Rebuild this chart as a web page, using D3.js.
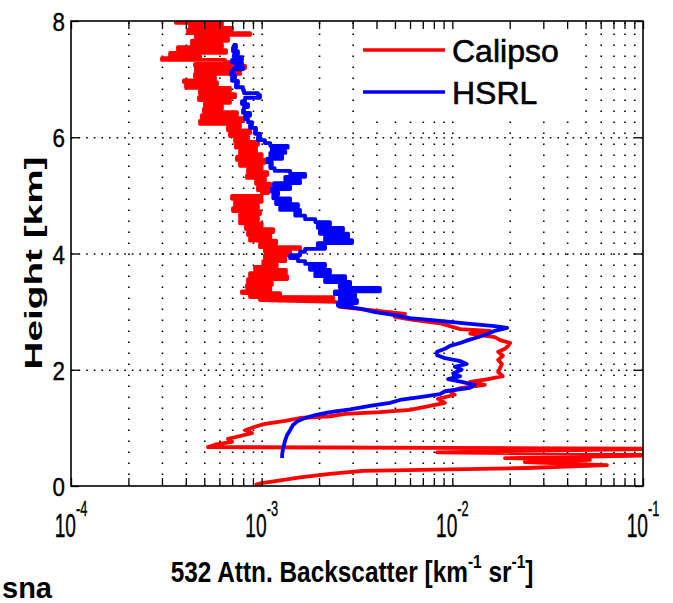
<!DOCTYPE html>
<html>
<head>
<meta charset="utf-8">
<script src="https://cdn.jsdelivr.net/npm/d3@7"></script>
<style>
  body { margin: 0; background: #fff; }
  text { font-family: "Liberation Sans", Arial, Helvetica, sans-serif; fill: #000; }
</style>
</head>
<body>
<svg id="chart" width="673" height="603"></svg>
<script>
// profiles: [height km, 532 attenuated backscatter km^-1 sr^-1], read top -> ground
const calipso = [
  [8.00,4.75e-4],[7.97,3.55e-4],[7.93,6.19e-4],[7.88,4.21e-4],[7.85,6.99e-4],[7.79,4.11e-4],
  [7.76,8.69e-4],[7.71,4.52e-4],[7.66,6.66e-4],[7.60,4.31e-4],[7.55,6.19e-4],[7.50,3.64e-4],
  [7.45,6.50e-4],[7.40,3.31e-4],[7.36,4.75e-4],[7.33,3.00e-4],[7.29,6.42e-4],[7.26,7.70e-4],
  [7.23,4.47e-4],[7.19,8.18e-4],[7.14,4.52e-4],[7.09,7.70e-4],[7.04,4.47e-4],[6.98,5.69e-4],
  [6.95,3.91e-4],[6.90,5.83e-4],[6.85,4.01e-4],[6.80,6.82e-4],[6.74,4.75e-4],[6.69,7.25e-4],
  [6.64,4.69e-4],[6.59,6.82e-4],[6.54,5.04e-4],[6.49,6.19e-4],[6.43,4.98e-4],[6.38,7.42e-4],
  [6.33,4.86e-4],[6.28,7.98e-4],[6.23,4.75e-4],[6.18,7.70e-4],[6.12,6.66e-4],[6.07,8.69e-4],
  [6.02,6.82e-4],[5.97,8.48e-4],[5.92,7.25e-4],[5.87,9.56e-4],[5.82,7.33e-4],[5.76,9.34e-4],
  [5.71,7.70e-4],[5.66,1.00e-3],[5.61,7.42e-4],[5.56,1.04e-3],[5.51,7.70e-4],[5.45,1.00e-3],
  [5.40,8.48e-4],[5.35,1.07e-3],[5.30,8.38e-4],[5.25,1.04e-3],[5.20,9.34e-4],[5.14,1.11e-3],
  [5.09,9.56e-4],[5.04,1.08e-3],[4.99,1.00e-3],[4.94,6.99e-4],[4.89,1.00e-3],[4.83,7.25e-4],
  [4.78,9.56e-4],[4.73,7.07e-4],[4.68,9.80e-4],[4.63,7.70e-4],[4.58,9.56e-4],[4.52,7.70e-4],
  [4.47,1.00e-3],[4.42,8.27e-4],[4.37,1.15e-3],[4.32,8.48e-4],[4.27,1.11e-3],[4.22,8.69e-4],
  [4.16,1.19e-3],[4.11,9.80e-4],[4.08,1.59e-3],[4.03,1.04e-3],[3.97,1.41e-3],[3.92,1.04e-3],
  [3.87,1.33e-3],[3.82,1.02e-3],[3.77,1.20e-3],[3.72,9.23e-4],[3.66,1.34e-3],[3.61,8.69e-4],
  [3.56,1.36e-3],[3.51,8.48e-4],[3.46,1.13e-3],[3.41,8.38e-4],[3.35,1.11e-3],[3.32,7.88e-4],
  [3.29,1.25e-3],[3.25,8.69e-4],[3.23,2.37e-3],[3.20,9.80e-4],[3.17,2.42e-3],[3.11,2.98e-3],
  [3.08,2.57e-3],[3.01,4.17e-3],[2.96,5.65e-3],[2.91,5.00e-3],[2.86,6.22e-3],[2.80,8.61e-3],
  [2.75,9.72e-3],[2.70,1.10e-2],[2.67,1.58e-2],[2.62,1.24e-2],[2.56,1.67e-2],[2.51,1.78e-2],
  [2.46,2.01e-2],[2.41,1.96e-2],[2.36,1.89e-2],[2.31,1.74e-2],[2.24,1.84e-2],[2.17,1.74e-2],
  [2.10,1.82e-2],[2.03,1.78e-2],[1.96,1.74e-2],[1.89,1.84e-2],[1.84,1.54e-2],[1.79,1.24e-2],
  [1.74,1.48e-2],[1.69,1.12e-2],[1.63,9.72e-3],[1.57,1.03e-2],[1.50,8.41e-3],[1.43,9.15e-3],
  [1.36,7.19e-3],[1.31,6.00e-3],[1.27,4.17e-3],[1.24,2.74e-3],[1.20,2.28e-3],[1.17,1.59e-3],
  [1.12,1.33e-3],[1.07,1.04e-3],[1.02,9.23e-4],[0.96,8.18e-4],[0.91,8.90e-4],[0.86,7.70e-4],
  [0.81,6.66e-4],[0.76,6.99e-4],[0.71,5.69e-4],[0.67,5.23e-4],[0.64,0.13],[0.58,8.31e-3],
  [0.53,0.13],[0.48,1.89e-2],[0.45,5.27e-2],[0.41,2.40e-2],[0.36,6.47e-2],[0.31,2.46e-2],
  [0.26,3.40e-3],[0.21,2.28e-3],[0.15,1.59e-3],[0.10,1.28e-3],[0.05,1.00e-3],[0.02,9.23e-4]
];

const hsrl = [
  [7.59,7.07e-4],[7.54,7.33e-4],[7.48,7.07e-4],[7.43,7.51e-4],[7.38,7.16e-4],[7.33,7.88e-4],
  [7.29,6.99e-4],[7.24,7.88e-4],[7.21,7.33e-4],[7.17,7.98e-4],[7.12,7.07e-4],[7.07,6.91e-4],
  [7.02,7.25e-4],[6.97,6.99e-4],[6.92,7.51e-4],[6.86,7.33e-4],[6.81,7.98e-4],[6.76,8.08e-4],
  [6.73,9.56e-4],[6.68,9.80e-4],[6.62,8.18e-4],[6.57,7.88e-4],[6.52,8.48e-4],[6.47,8.08e-4],
  [6.42,7.98e-4],[6.37,8.69e-4],[6.31,8.18e-4],[6.26,8.48e-4],[6.21,8.90e-4],[6.16,8.69e-4],
  [6.11,9.34e-4],[6.06,9.23e-4],[6.00,9.80e-4],[5.95,9.56e-4],[5.90,1.04e-3],[5.85,1.11e-3],
  [5.82,1.37e-3],[5.76,1.13e-3],[5.73,1.33e-3],[5.68,1.11e-3],[5.63,1.28e-3],[5.57,1.07e-3],
  [5.52,1.13e-3],[5.47,1.11e-3],[5.42,1.17e-3],[5.37,1.41e-3],[5.32,1.69e-3],[5.26,1.33e-3],
  [5.21,1.59e-3],[5.16,1.16e-3],[5.11,1.41e-3],[5.06,1.13e-3],[5.01,1.22e-3],[4.95,1.15e-3],
  [4.90,1.41e-3],[4.85,1.19e-3],[4.80,1.55e-3],[4.75,1.25e-3],[4.70,1.59e-3],[4.65,1.50e-3],
  [4.59,1.69e-3],[4.54,1.91e-3],[4.49,2.28e-3],[4.44,1.97e-3],[4.39,2.67e-3],[4.34,2.02e-3],
  [4.28,2.84e-3],[4.23,2.15e-3],[4.18,2.98e-3],[4.13,1.97e-3],[4.08,2.15e-3],[4.03,1.69e-3],
  [3.97,1.59e-3],[3.92,1.41e-3],[3.87,1.55e-3],[3.82,1.69e-3],[3.77,2.15e-3],[3.72,1.79e-3],
  [3.66,2.28e-3],[3.61,1.91e-3],[3.56,2.74e-3],[3.51,2.15e-3],[3.46,2.91e-3],[3.41,2.57e-3],
  [3.35,4.17e-3],[3.30,2.42e-3],[3.25,3.09e-3],[3.20,2.57e-3],[3.15,3.16e-3],[3.10,2.51e-3],
  [3.05,3.28e-3],[2.99,3.93e-3],[2.94,5.00e-3],[2.89,6.00e-3],[2.84,8.61e-3],[2.79,1.24e-2],
  [2.75,1.67e-2],[2.72,1.94e-2],[2.67,1.67e-2],[2.62,1.54e-2],[2.56,1.36e-2],[2.51,1.21e-2],
  [2.46,1.10e-2],[2.41,9.72e-3],[2.36,9.15e-3],[2.31,8.31e-3],[2.25,8.31e-3],[2.20,9.15e-3],
  [2.15,1.10e-2],[2.10,1.19e-2],[2.05,1.03e-2],[2.00,1.12e-2],[1.94,1.01e-2],[1.89,1.10e-2],
  [1.84,9.49e-3],[1.79,1.12e-2],[1.74,1.31e-2],[1.69,1.24e-2],[1.63,9.15e-3],[1.58,8.61e-3],
  [1.53,6.77e-3],[1.48,5.31e-3],[1.43,4.71e-3],[1.38,3.70e-3],[1.32,2.91e-3],[1.27,2.28e-3],
  [1.22,1.91e-3],[1.17,1.69e-3],[1.12,1.55e-3],[1.05,1.46e-3],[0.96,1.41e-3],[0.88,1.36e-3],
  [0.79,1.33e-3],[0.71,1.31e-3],[0.62,1.29e-3],[0.53,1.28e-3],[0.48,1.28e-3]
];

const seriesNames = ["Calipso", "HSRL"];
const seriesColors = ["#ff0000", "#0000ff"];
const heightTicks = [0, 2, 4, 6, 8];
const decadeTicks = [1e-4, 1e-3, 1e-2, 1e-1];
const decadeExps = ["-4", "-3", "-2", "-1"];
const noisyAbove = [3.2, 3.1]; // km: each profile drawn as blocky steps above this height

const svg = d3.select("#chart");
const x = d3.scaleLog().domain([1e-4, 1e-1]).range([71, 643]);
const y = d3.scaleLinear().domain([0, 8]).range([486, 21]);
const plotH = y(0) - y(8), plotW = x(1e-1) - x(1e-4);
const xTicks = x.ticks(); // 1..9 per decade

// dotted grid
const gx = svg.append("g")
  .attr("transform", `translate(0,${y(0)})`)
  .call(d3.axisBottom(x).tickValues(xTicks.filter(d => d > 1e-4 && d < 1e-1)).tickSize(-plotH).tickFormat(""));
gx.select(".domain").remove();
gx.selectAll("line").attr("stroke", "#000").attr("stroke-width", 1.6).attr("stroke-dasharray", "1.6,9.4");

const gy = svg.append("g")
  .attr("transform", `translate(${x(1e-4)},0)`)
  .call(d3.axisLeft(y).tickValues([2, 4, 6]).tickSize(-plotW).tickFormat(""));
gy.select(".domain").remove();
gy.selectAll("line").attr("stroke", "#000").attr("stroke-width", 1.6).attr("stroke-dasharray", "1.6,6");

// legend background hides the grid
svg.append("rect").attr("x", 356).attr("y", 22).attr("width", 226).attr("height", 92).attr("fill", "#fff");

// profiles
svg.append("clipPath").attr("id", "clip")
  .append("rect").attr("x", x(1e-4)).attr("y", y(8)).attr("width", plotW).attr("height", plotH);

const stepLine = d3.line().x(d => x(d[1])).y(d => y(d[0])).curve(d3.curveStepAfter);
const plainLine = d3.line().x(d => x(d[1])).y(d => y(d[0]));

function drawPath(data, color, gen) {
  svg.append("path")
    .datum(data)
    .attr("clip-path", "url(#clip)")
    .attr("fill", "none")
    .attr("stroke", color)
    .attr("stroke-width", 3.8)
    .attr("stroke-linejoin", "round")
    .attr("d", gen);
}
[calipso, hsrl].forEach((data, i) => {
  drawPath(data.filter(d => d[0] >= noisyAbove[i]), seriesColors[i], stepLine);
  drawPath(data.filter(d => d[0] <= noisyAbove[i] + 0.06), seriesColors[i], plainLine);
});

// inward ticks on all four sides
function tidy(g) {
  g.select(".domain").remove();
  g.selectAll("line").attr("stroke", "#000").attr("stroke-width", 1.3);
}
svg.append("g").attr("transform", `translate(0,${y(0)})`)
  .call(d3.axisBottom(x).tickValues(xTicks).tickSize(-8).tickFormat("")).call(tidy);
svg.append("g").attr("transform", `translate(0,${y(8)})`)
  .call(d3.axisTop(x).tickValues(xTicks).tickSize(-8).tickFormat("")).call(tidy);
svg.append("g").attr("transform", `translate(${x(1e-4)},0)`)
  .call(d3.axisLeft(y).tickValues(heightTicks).tickSize(-8).tickFormat("")).call(tidy);
svg.append("g").attr("transform", `translate(${x(1e-1)},0)`)
  .call(d3.axisRight(y).tickValues(heightTicks).tickSize(-8).tickFormat("")).call(tidy);

svg.append("rect")
  .attr("x", x(1e-4)).attr("y", y(8)).attr("width", plotW).attr("height", plotH)
  .attr("fill", "none").attr("stroke", "#000").attr("stroke-width", 1.6);

// y tick labels (narrow)
heightTicks.forEach(h => {
  svg.append("g").attr("transform", `translate(65,${y(h) + 10}) scale(0.86,1)`)
    .append("text").attr("text-anchor", "end").attr("font-size", 26)
    .attr("stroke", "#000").attr("stroke-width", 0.4).text(h);
});

// x tick labels 10^n
decadeTicks.forEach((d, i) => {
  const t = svg.append("g").attr("transform", `translate(${x(d)},537) scale(0.58,1)`)
    .append("text").attr("text-anchor", "middle").attr("font-size", 33)
    .attr("stroke", "#000").attr("stroke-width", 0.4);
  t.append("tspan").text("10");
  t.append("tspan").attr("font-size", 22).attr("dy", -21).text(decadeExps[i]);
});

// axis titles, squeezed/stretched to the measured span
function fitText(text, target) {
  const w = text.node().getBBox().width;
  return w ? target / w : 1;
}
const xt = svg.append("g");
const xtText = xt.append("text").attr("text-anchor", "middle").attr("font-size", 30).attr("font-weight", "bold");
xtText.append("tspan").text("532 Attn. Backscatter [km");
xtText.append("tspan").attr("font-size", 19).attr("dy", -14).text("-1");
xtText.append("tspan").attr("dy", 14).text(" sr");
xtText.append("tspan").attr("font-size", 19).attr("dy", -14).text("-1");
xtText.append("tspan").attr("dy", 14).text("]");
xt.attr("transform", `translate(352,582) scale(${fitText(xtText, 363)},1)`);

const yt = svg.append("g");
const ytText = yt.append("text").attr("text-anchor", "middle").attr("font-size", 24).attr("font-weight", "bold").text("Height [km]");
yt.attr("transform", `translate(42,263) rotate(-90) scale(${fitText(ytText, 213)},1)`);

// legend
const legY = [50, 92];
seriesNames.forEach((name, i) => {
  svg.append("line").attr("x1", 363).attr("x2", 445).attr("y1", legY[i]).attr("y2", legY[i])
    .attr("stroke", seriesColors[i]).attr("stroke-width", 3.4);
  svg.append("text").attr("x", 452).attr("y", legY[i] + 12).attr("font-size", 32)
    .attr("stroke", "#000").attr("stroke-width", 0.6).text(name);
});

// caption fragment at the lower left
svg.append("text").attr("x", 2).attr("y", 598).attr("font-size", 29).attr("font-weight", "bold").text("sna");
</script>
</body>
</html>
